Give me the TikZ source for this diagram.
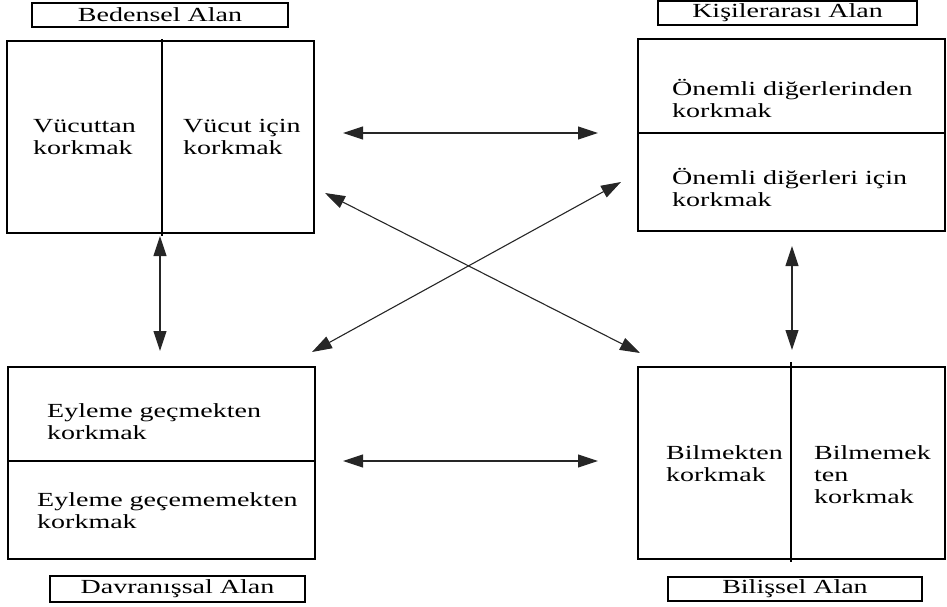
\documentclass[tikz,border=0pt]{standalone}
\usepackage{fontspec}
\setmainfont{Liberation Serif}[FakeStretch=1.4]
\usetikzlibrary{arrows.meta}
\begin{document}
\begin{tikzpicture}[x=1pt,y=-1pt,
  panel/.style={draw=black, line width=2pt, inner sep=0pt, minimum width=307pt, minimum height=192pt},
  tag/.style={draw=black, line width=2pt, inner sep=0pt, minimum height=24pt, font=\fontsize{20}{22}\selectfont},
  txt/.style={anchor=west, align=left, inner sep=0pt, font=\fontsize{20}{22}\selectfont},
  divider/.style={draw=black, line width=2pt},
  link/.style={draw=black!85, line width=1.1pt,
    {Triangle[length=20pt,width=13pt]}-{Triangle[length=20pt,width=13pt]}}
]
\useasboundingbox (0,0) rectangle (947,607);

% four domains
\node[panel] (bed) at (160,137) {};
\node[panel] (kis) at (791.5,135) {};
\node[panel] (dav) at (161.5,463) {};
\node[panel] (bil) at (791.5,463) {};

% dividers
\draw[divider] (162,39) -- (162,236);
\draw[divider] (kis.west |- 0,133) -- (kis.east |- 0,133);
\draw[divider] (dav.west |- 0,461) -- (dav.east |- 0,461);
\draw[divider] (791,362) -- (791,562);

% domain titles
\node[tag, minimum width=256pt] (tbed) at (160,15) {Bedensel Alan};
\node[tag, minimum width=259pt] (tkis) at (787.5,13) {Kişilerarası Alan};
\node[tag, minimum width=255pt, minimum height=26pt] (tdav) at (177.5,589) {Davranışsal Alan};
\node[tag, minimum width=254pt] (tbil) at (795,589) {Bilişsel Alan};

% contents
\node[txt] (b1) at (33,137) {Vücuttan\\korkmak};
\node[txt] (b2) at (183,137) {Vücut için\\korkmak};
\node[txt] (k1) at (672,98) {Önemli diğerlerinden\\korkmak};
\node[txt] (k2) at (672,187) {Önemli diğerleri için\\korkmak};
\node[txt] (d1) at (47,422) {Eyleme geçmekten\\korkmak};
\node[txt] (d2) at (37,511) {Eyleme geçememekten\\korkmak};
\node[txt] (i1) at (666,464) {Bilmekten\\korkmak};
\node[txt] (i2) at (814,475) {Bilmemek\\ten\\korkmak};

% arrow ends
\coordinate (h1a) at (343,133); \coordinate (h1b) at (598,133);
\coordinate (h2a) at (343,461); \coordinate (h2b) at (598,461);
\coordinate (v1a) at (160,236); \coordinate (v1b) at (160,351);
\coordinate (v2a) at (792,246); \coordinate (v2b) at (792,350);
\coordinate (x1a) at (325,193); \coordinate (x1b) at (640,353);
\coordinate (x2a) at (312,352); \coordinate (x2b) at (621,182);

\draw[link] (h1a) -- (h1b);
\draw[link] (h2a) -- (h2b);
\draw[link] (v1a) -- (v1b);
\draw[link] (v2a) -- (v2b);
\draw[link] (x1a) -- (x1b);
\draw[link] (x2a) -- (x2b);
\end{tikzpicture}
\end{document}
